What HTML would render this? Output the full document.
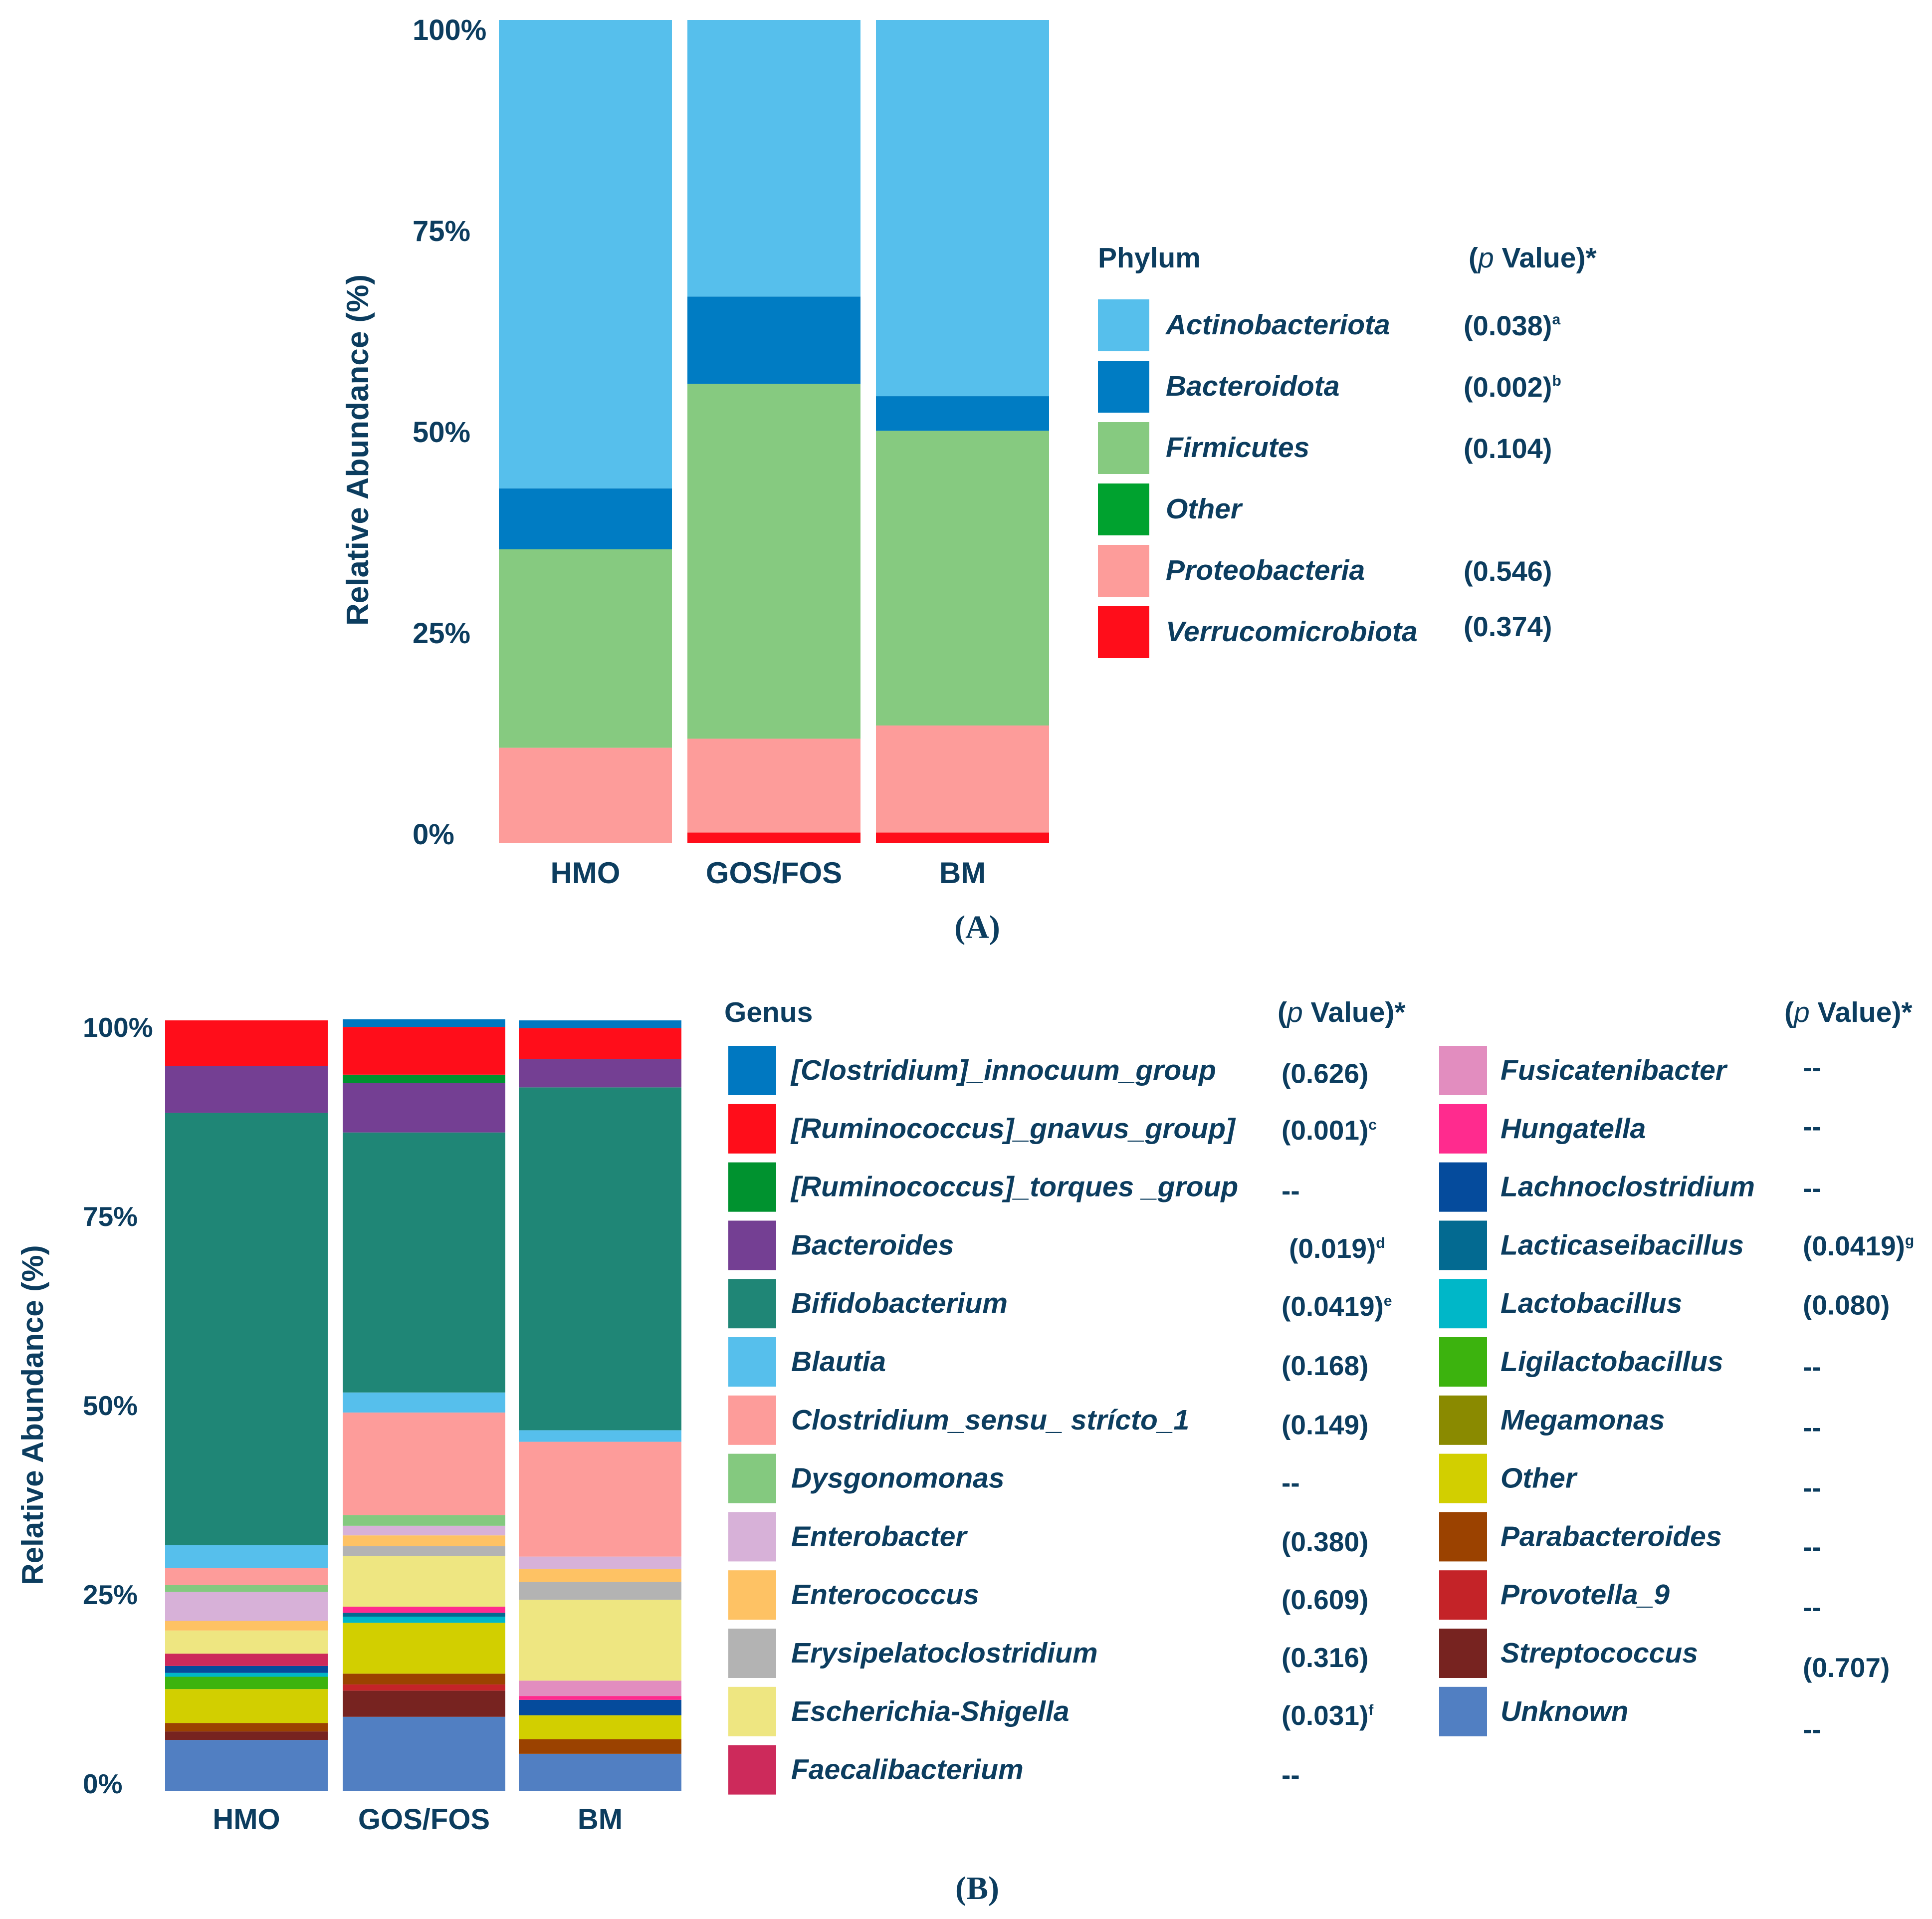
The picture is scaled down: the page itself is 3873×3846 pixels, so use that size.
<!DOCTYPE html>
<html><head><meta charset="utf-8"><style>
html,body{margin:0;padding:0;background:#fff}
svg{display:block}
text{font-family:"Liberation Sans",sans-serif;font-weight:bold;fill:#0c3d5f}
.it{font-style:italic}
</style></head><body>
<svg id="s" width="3873" height="3846" viewBox="0 0 3873 3846" xmlns="http://www.w3.org/2000/svg">
<g id="pa"></g>
<g id="pb"></g>
<text x="1959" y="1880" font-size="66" text-anchor="middle" style="font-family:'Liberation Serif',serif">(A)</text>
<text x="1959" y="3806" font-size="66" text-anchor="middle" style="font-family:'Liberation Serif',serif">(B)</text>
</svg>
<script>
const groups = ["HMO","GOS/FOS","BM"];
const phyla = ["Actinobacteriota","Bacteroidota","Firmicutes","Other","Proteobacteria","Verrucomicrobiota"];
const phylaColors = ["#56bfec","#007cc3","#86ca80","#00a22f","#fd9c9a","#ff0d1a"];
const phylaP = ["(0.038)","(0.002)","(0.104)","","(0.546)","(0.374)"];
const phylaSup = ["a","b","","","",""];
const phylumHMO = [56.9,7.4,24.1,0,11.6,0];
const phylumGOS = [33.6,10.6,43.1,0,11.4,1.3];
const phylumBM = [45.7,4.2,35.8,0,13.0,1.3];
const tickLabels = ["0%","25%","50%","75%","100%"];
const genera = ["[Clostridium]_innocuum_group","[Ruminococcus]_gnavus_group]","[Ruminococcus]_torques _group","Bacteroides","Bifidobacterium","Blautia","Clostridium_sensu_ strícto_1","Dysgonomonas","Enterobacter","Enterococcus","Erysipelatoclostridium","Escherichia-Shigella","Faecalibacterium","Fusicatenibacter","Hungatella","Lachnoclostridium","Lacticaseibacillus","Lactobacillus","Ligilactobacillus","Megamonas","Other","Parabacteroides","Provotella_9","Streptococcus","Unknown"];
const generaColors = ["#0078c1","#ff0d1a","#00922f","#743f93","#1f8676","#56bfec","#fd9c9a","#84c97f","#d7b1d8","#fec264","#b3b3b3","#eee681","#cd2a5b","#e28dbf","#ff2b8e","#054b9c","#036a91","#00b7c8","#3cb30e","#8a8a00","#d2cf00","#9b4200","#c42328","#772320","#517fc2"];
const generaP = ["(0.626)","(0.001)","--","(0.019)","(0.0419)","(0.168)","(0.149)","--","(0.380)","(0.609)","(0.316)","(0.031)","--","--","--","--","(0.0419)","(0.080)","--","--","--","--","--","(0.707)","--"];
const generaSup = ["","c","","d","e","","","","","","","f","","","","","g","","","","","","","",""];
const genusHMO = [0,5.9,0,6.1,56.1,3.0,2.2,0.9,3.75,1.25,0,3.0,1.6,0,0,0.9,0,0.5,1.6,0,4.4,1.1,0,1.1,6.6];
const genusGOS = [1.0,6.2,1.1,6.4,33.75,2.6,13.3,1.4,1.25,1.4,1.25,6.6,0,0,0.8,0,0.5,0.8,0,0,6.6,1.4,0.8,3.4,9.6];
const genusBM = [1.0,4.0,0,3.7,44.5,1.5,14.9,0,1.6,1.7,2.3,10.5,0,2.0,0.5,2.0,0,0,0,0,3.1,1.9,0,0,4.8];

const NS="http://www.w3.org/2000/svg";
function mk(parent,tag,attrs,txt){const e=document.createElementNS(NS,tag);for(const k in attrs)e.setAttribute(k,attrs[k]);if(txt!==undefined)e.textContent=txt;parent.appendChild(e);return e;}

function stack(g,vals,colors,names,x,w,yScale,prefix){
  let cum=0;
  for(let i=vals.length-1;i>=0;i--){
    const v=vals[i]; if(v<=0) continue;
    const y1=yScale(cum), y2=yScale(cum+v);
    const r=mk(g,'rect',{x:x,y:y2,width:w,height:y1-y2,fill:colors[i]});
    
    
    cum+=v;
  }
}

// Panel A
const pa=document.getElementById('pa');
const yA=v=>1690-v/100*1650;
const barAx=[1000,1378,1756], barAw=347;
[phylumHMO,phylumGOS,phylumBM].forEach((vals,gi)=>{
  stack(pa,vals,phylaColors,phyla,barAx[gi],barAw,yA,'bar-a-'+groups[gi].replace('/','-').toLowerCase());
  const t=mk(pa,'text',{x:barAx[gi]+barAw/2,y:1770,'font-size':60,'text-anchor':'middle'},groups[gi]);
  
  
});
tickLabels.forEach((lab,i)=>{
  const t=mk(pa,'text',{x:827,y:1692-i*403,'font-size':58},lab);
  
  
});
let ta=mk(pa,'text',{x:0,y:0,'font-size':62,'text-anchor':'middle',transform:'translate(738,902) rotate(-90)'},'Relative Abundance (%)');


let lt=mk(pa,'text',{x:2201,y:536,'font-size':57},'Phylum');


let ph=mk(pa,'text',{x:2944,y:536,'font-size':57});


mk(ph,'tspan',{},'(');mk(ph,'tspan',{'font-style':'italic','font-weight':'normal'},'p');mk(ph,'tspan',{},' Value)*');
phyla.forEach((n,i)=>{
  const cy=652+i*123;
  const r=mk(pa,'rect',{x:2201,y:cy-52,width:103,height:104,fill:phylaColors[i]});
  
  
  const t=mk(pa,'text',{x:2337,y:cy+18,'font-size':57,class:'it'},n);
  
  
  if(phylaP[i]){
    const py = i===5 ? cy+8 : cy+20;
    const p=mk(pa,'text',{x:2934,y:py,'font-size':56},phylaP[i]);
    
    
    if(phylaSup[i]) mk(p,'tspan',{'font-size':30,dy:-22},phylaSup[i]);
  }
});

// Panel B
const pb=document.getElementById('pb');
const yB=v=>3589-v/100*1544;
const barBx=[331,687,1040], barBw=326;
[genusHMO,genusGOS,genusBM].forEach((vals,gi)=>{
  stack(pb,vals,generaColors,genera,barBx[gi],barBw,yB,'bar-b-'+groups[gi].replace('/','-').toLowerCase());
  const t=mk(pb,'text',{x:barBx[gi]+barBw/2,y:3666,'font-size':58,'text-anchor':'middle'},groups[gi]);
  
  
});
tickLabels.forEach((lab,i)=>{
  const t=mk(pb,'text',{x:166,y:3594-i*379,'font-size':55},lab);
  
  
});
let tb=mk(pb,'text',{x:0,y:0,'font-size':60,'text-anchor':'middle',transform:'translate(86,2836) rotate(-90)'},'Relative Abundance (%)');


let gt=mk(pb,'text',{x:1452,y:2048,'font-size':57},'Genus');


[2561,3577].forEach((x,k)=>{
  const h=mk(pb,'text',{x:x,y:2048,'font-size':57});
  
  
  mk(h,'tspan',{},'(');mk(h,'tspan',{'font-style':'italic','font-weight':'normal'},'p');mk(h,'tspan',{},' Value)*');
});
const pyThumb=[871,917,966,1013,1060,1108,1156,1203,1251,1298,1345,1392,1440,866,914,964,1011,1059,1109,1158,1207,1255,1304,1353,1403];
genera.forEach((n,i)=>{
  const col=i<13?0:1, row=i<13?i:i-13;
  const cy=2146+row*116.8;
  const sx=col?2885:1460, lx=col?3008:1586, px=col?3614:2569;
  const r=mk(pb,'rect',{x:sx,y:cy-50,width:96,height:99,fill:generaColors[i]});
  
  
  const t=mk(pb,'text',{x:lx,y:cy+18,'font-size':57,class:'it'},n);
  
  
  const p=mk(pb,'text',{x:(i===3?px+15:px),y:pyThumb[i]*2.47+19,'font-size':55},generaP[i]);
  
  
  if(generaSup[i]) mk(p,'tspan',{'font-size':30,dy:-20},generaSup[i]);
});
</script>
</body></html>
